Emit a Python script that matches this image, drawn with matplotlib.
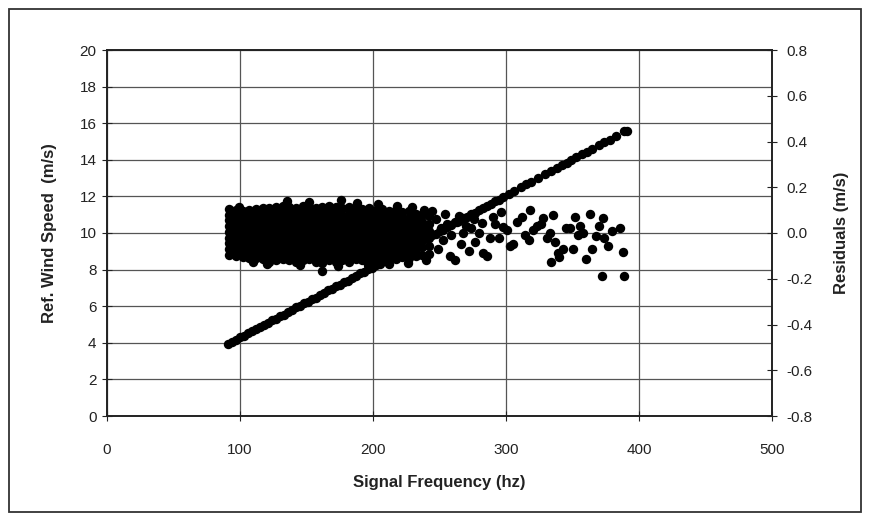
import matplotlib
matplotlib.use("Agg")
import matplotlib.pyplot as plt
from matplotlib.patches import Rectangle
from matplotlib.ticker import FormatStrFormatter

plt.rcParams['font.family'] = ['Liberation Sans', 'DejaVu Sans']
plt.rcParams['axes.unicode_minus'] = False

# calibration points: signal frequency (hz) vs reference wind speed (m/s)
line_freq = [91, 94, 97, 100, 103, 106, 109, 112, 115, 118, 121, 124, 127, 130,
             133, 136, 139, 142, 145, 148, 151, 154, 157, 160, 163, 166, 169, 172,
             175, 178, 181, 184, 187, 190, 193, 196, 199, 202, 205, 208, 211, 214,
             217, 220, 223, 226, 229, 232, 235, 238, 241, 244, 247, 250, 253, 256,
             259, 262, 265, 268, 271, 274, 277, 280, 283, 286, 289, 292, 295, 298,
             302, 306, 311, 315, 319, 324, 329, 334, 338, 342, 346, 349, 353, 357,
             361, 365, 370, 374, 378, 383, 389, 391]
line_speed = [3.94, 4.07, 4.15, 4.31, 4.39, 4.54, 4.62, 4.77, 4.85, 5.00, 5.08, 5.24,
              5.31, 5.47, 5.54, 5.70, 5.78, 5.93, 6.01, 6.16, 6.24, 6.40, 6.47, 6.63,
              6.71, 6.86, 6.94, 7.09, 7.17, 7.33, 7.40, 7.56, 7.63, 7.79, 7.87, 8.02,
              8.10, 8.26, 8.33, 8.49, 8.56, 8.72, 8.80, 8.95, 9.03, 9.18, 9.26, 9.42,
              9.49, 9.65, 9.72, 9.88, 9.96, 10.11, 10.19, 10.34, 10.42, 10.58, 10.65,
              10.81, 10.89, 11.04, 11.12, 11.27, 11.35, 11.50, 11.58, 11.74, 11.81,
              11.98, 12.15, 12.31, 12.50, 12.66, 12.81, 13.00, 13.20, 13.39, 13.55,
              13.70, 13.85, 13.98, 14.13, 14.29, 14.44, 14.60, 14.79, 14.95, 15.10,
              15.30, 15.55, 15.60]

# residual cloud, dense part read column by column (freq -> residuals, m/s)
cloud_cols = [92, 97, 102, 107, 112, 117, 122, 127, 132, 137, 142, 147, 152, 157,
              162, 167, 172, 177, 182, 187, 192, 197, 202, 207, 212, 217, 222, 227,
              232, 237, 242]
cloud_res = [
    [-0.095, -0.07, -0.045, -0.02, 0.005, 0.03, 0.055, 0.08, 0.105],
    [-0.10, -0.075, -0.05, -0.025, 0.0, 0.025, 0.05, 0.075, 0.10],
    [-0.105, -0.08, -0.055, -0.03, -0.005, 0.02, 0.045, 0.07, 0.095],
    [-0.11, -0.085, -0.06, -0.035, -0.01, 0.015, 0.04, 0.065, 0.09, 0.10],
    [-0.11, -0.085, -0.06, -0.035, -0.01, 0.015, 0.04, 0.065, 0.09, 0.105],
    [-0.115, -0.09, -0.065, -0.04, -0.015, 0.01, 0.035, 0.06, 0.085, 0.11],
    [-0.125, -0.10, -0.075, -0.05, -0.025, 0.0, 0.025, 0.05, 0.075, 0.10, 0.11],
    [-0.12, -0.095, -0.07, -0.045, -0.02, 0.005, 0.03, 0.055, 0.08, 0.105, 0.115],
    [-0.115, -0.09, -0.065, -0.04, -0.015, 0.01, 0.035, 0.06, 0.085, 0.11, 0.12],
    [-0.12, -0.095, -0.07, -0.045, -0.02, 0.005, 0.03, 0.055, 0.08, 0.105, 0.115],
    [-0.125, -0.10, -0.075, -0.05, -0.025, 0.0, 0.025, 0.05, 0.075, 0.10, 0.11],
    [-0.12, -0.095, -0.07, -0.045, -0.02, 0.005, 0.03, 0.055, 0.08, 0.105, 0.12],
    [-0.115, -0.09, -0.065, -0.04, -0.015, 0.01, 0.035, 0.06, 0.085, 0.115],
    [-0.125, -0.10, -0.075, -0.05, -0.025, 0.0, 0.025, 0.05, 0.075, 0.10, 0.11],
    [-0.13, -0.105, -0.08, -0.055, -0.03, -0.005, 0.02, 0.045, 0.07, 0.095, 0.115],
    [-0.12, -0.095, -0.07, -0.045, -0.02, 0.005, 0.03, 0.055, 0.08, 0.105, 0.12],
    [-0.125, -0.10, -0.075, -0.05, -0.025, 0.0, 0.025, 0.05, 0.075, 0.10, 0.115],
    [-0.12, -0.095, -0.07, -0.045, -0.02, 0.005, 0.03, 0.055, 0.08, 0.11],
    [-0.125, -0.10, -0.075, -0.05, -0.025, 0.0, 0.025, 0.05, 0.075, 0.10, 0.115],
    [-0.115, -0.09, -0.065, -0.04, -0.015, 0.01, 0.035, 0.06, 0.085, 0.11],
    [-0.12, -0.095, -0.07, -0.045, -0.02, 0.005, 0.03, 0.055, 0.08, 0.105],
    [-0.125, -0.10, -0.075, -0.05, -0.025, 0.0, 0.025, 0.05, 0.075, 0.10, 0.11],
    [-0.115, -0.09, -0.065, -0.04, -0.015, 0.01, 0.035, 0.06, 0.085, 0.10],
    [-0.12, -0.095, -0.07, -0.045, -0.02, 0.005, 0.03, 0.055, 0.08, 0.105],
    [-0.11, -0.085, -0.06, -0.035, -0.01, 0.015, 0.04, 0.065, 0.095],
    [-0.115, -0.09, -0.065, -0.04, -0.015, 0.01, 0.035, 0.06, 0.085, 0.10],
    [-0.105, -0.08, -0.055, -0.03, -0.005, 0.02, 0.045, 0.07, 0.09],
    [-0.11, -0.085, -0.06, -0.035, -0.01, 0.015, 0.04, 0.065, 0.095],
    [-0.10, -0.07, -0.045, -0.02, 0.005, 0.03, 0.055, 0.085],
    [-0.095, -0.06, -0.03, 0.0, 0.025, 0.05, 0.08],
    [-0.09, -0.055, -0.02, 0.01, 0.04, 0.075],
]

# single scattered residual points (edges of the cloud and the sparse tail)
spread_freq = [99, 110, 120, 135, 145, 152, 162, 174, 176, 188, 196, 204, 212, 218,
               226, 229, 238, 240, 244, 247, 249, 251, 253, 254, 256, 258, 259, 262,
               263, 265, 266, 268, 270, 272, 274, 276, 277, 280, 282, 283, 286, 288,
               290, 292, 295, 296, 298, 301, 303, 305, 308, 312, 314, 317, 318, 320,
               323, 326, 328, 331, 333, 334, 335, 337, 339, 340, 343, 345, 348, 350,
               352, 354, 356, 358, 360, 363, 365, 368, 370, 372, 373, 374, 377, 380,
               386, 388, 389]
spread_res = [0.115, -0.125, -0.135, 0.14, -0.14, 0.135, -0.165, -0.145, 0.145, 0.13,
              -0.14, 0.125, -0.135, 0.12, -0.13, 0.115, 0.10, -0.12, 0.095, 0.06,
              -0.07, 0.02, -0.03, 0.085, 0.04, -0.10, -0.01, -0.12, 0.05, 0.075,
              -0.05, 0.0, 0.03, -0.08, 0.02, 0.06, -0.04, 0.0, 0.045, -0.088, -0.10,
              -0.02, 0.07, 0.04, -0.02, 0.09, 0.025, 0.011, -0.055, -0.048, 0.05,
              0.068, -0.01, -0.032, 0.10, 0.011, 0.032, 0.04, 0.064, -0.02, 0.0,
              -0.128, 0.077, -0.04, -0.088, -0.107, -0.068, 0.02, 0.02, -0.068,
              0.068, -0.01, 0.032, 0.0, -0.112, 0.085, -0.068, -0.011, 0.03, -0.186,
              0.064, -0.024, -0.055, 0.01, 0.02, -0.085, -0.186]

res_freq = []
res_val = []
for f, col in zip(cloud_cols, cloud_res):
    res_freq += [f] * len(col)
    res_val += col
res_freq += spread_freq
res_val += spread_res

W, H = 869, 520
fig = plt.figure(figsize=(W / 100, H / 100), dpi=100)
fig.patches.append(Rectangle((9 / W, 8 / H), 852 / W, 503 / H, transform=fig.transFigure,
                             fill=False, lw=1.3, ec='#333333'))

l, r, t, b = 107, 772, 50, 416
ax = fig.add_axes([l / W, 1 - b / H, (r - l) / W, (b - t) / H])
ax2 = ax.twinx()

ax.set_xlim(0, 500)
ax.set_ylim(0, 20)
ax.set_xticks(range(0, 501, 100))
ax.set_yticks(range(0, 21, 2))
ax2.set_ylim(-0.8, 0.8)
ax2.set_yticks([-0.8, -0.6, -0.4, -0.2, 0.0, 0.2, 0.4, 0.6, 0.8])
ax2.yaxis.set_major_formatter(FormatStrFormatter('%.1f'))

ax.grid(True, color='#555555', lw=0.9)
ax.set_axisbelow(True)
for a in (ax, ax2):
    for s in a.spines.values():
        s.set_color('#222222')
        s.set_linewidth(1.2)
ax.tick_params(axis='x', direction='inout', length=7, pad=16, labelsize=11, colors='#222222')
ax.tick_params(axis='y', direction='inout', length=7, pad=4, labelsize=11, colors='#222222')
ax2.tick_params(axis='y', direction='inout', length=7, pad=7, labelsize=11, colors='#222222')

ax.scatter(line_freq, line_speed, s=46, c='black', lw=0, zorder=3)
ax2.scatter(res_freq, res_val, s=46, c='black', lw=0, zorder=3)

ax.set_xlabel('Signal Frequency (hz)', fontsize=12, fontweight='bold', color='#222222')
ax.set_ylabel('Ref. Wind Speed  (m/s)', fontsize=12, fontweight='bold', color='#222222')
ax2.set_ylabel('Residuals (m/s)', fontsize=12, fontweight='bold', color='#222222')
ax.xaxis.set_label_coords(0.5, -0.16)
ax.yaxis.set_label_coords(-0.075, 0.5)
ax2.yaxis.set_label_coords(1.093, 0.5)

fig.savefig('out.png', dpi=100)
